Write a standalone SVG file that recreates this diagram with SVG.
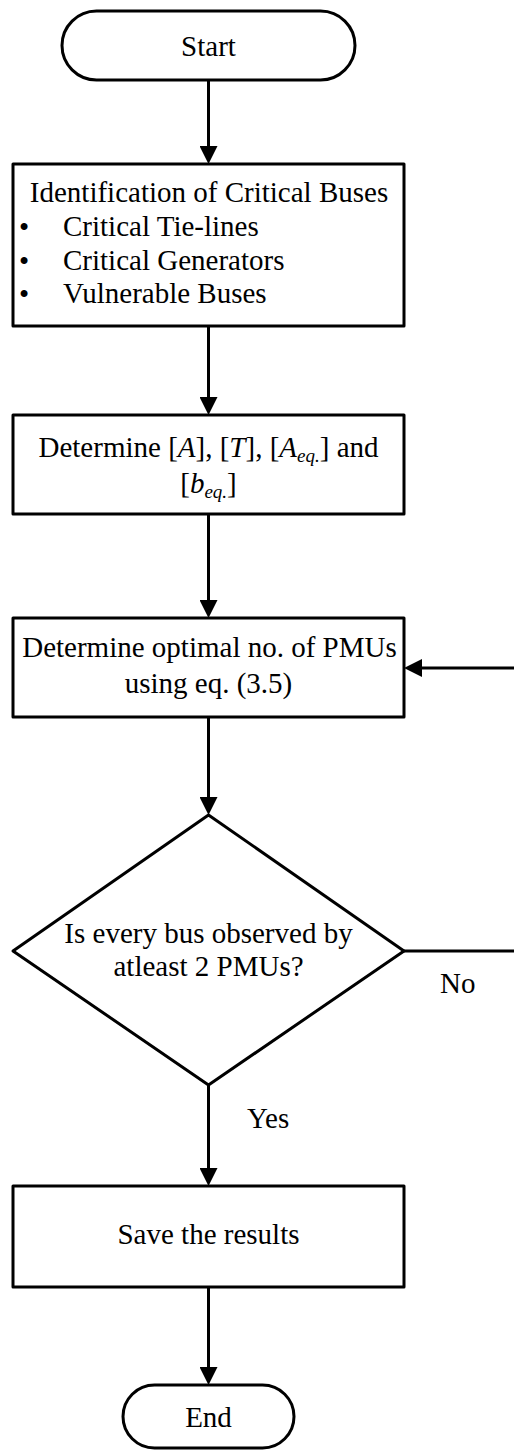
<svg xmlns="http://www.w3.org/2000/svg" width="514" height="1450" viewBox="0 0 514 1450">
<style>
.shape{fill:#fff;stroke:#000;stroke-width:3;stroke-linejoin:round}
.conn{fill:none;stroke:#000;stroke-width:3}
text{font-family:"Liberation Serif","Times New Roman",serif;font-size:29px;fill:#000}
.c{text-anchor:middle}
.i{font-style:italic}
.sub{font-size:19px;font-style:italic}
</style>
<defs>
<marker id="arr" markerUnits="userSpaceOnUse" markerWidth="18" markerHeight="18" refX="8" refY="9" orient="auto">
<path d="M0,0 L18,9 L0,18 z" fill="#000"/>
</marker>
</defs>
<rect width="514" height="1450" fill="#fff"/>
<g id="connectors">
<line class="conn" x1="208.5" y1="80" x2="208.5" y2="154" marker-end="url(#arr)"/>
<line class="conn" x1="208.5" y1="326" x2="208.5" y2="405" marker-end="url(#arr)"/>
<line class="conn" x1="208.5" y1="514" x2="208.5" y2="608" marker-end="url(#arr)"/>
<line class="conn" x1="208.5" y1="717" x2="208.5" y2="805" marker-end="url(#arr)"/>
<line class="conn" x1="208.5" y1="1085" x2="208.5" y2="1176" marker-end="url(#arr)"/>
<line class="conn" x1="208.5" y1="1287" x2="208.5" y2="1375" marker-end="url(#arr)"/>
<line class="conn" x1="404" y1="951" x2="514" y2="951"/>
<line class="conn" x1="514" y1="668" x2="414" y2="668" marker-end="url(#arr)"/>
<text x="440" y="993">No</text>
<text x="247" y="1128">Yes</text>
</g>
<g id="start">
<rect class="shape" x="62" y="11" width="293" height="69" rx="34.5" ry="34.5"/>
<text class="c" x="208.5" y="56">Start</text>
</g>
<g id="identify">
<rect class="shape" x="13" y="164" width="391" height="162"/>
<text class="c" x="209" y="202">Identification of Critical Buses</text>
<text x="19" y="237">•</text>
<text x="63" y="236">Critical Tie-lines</text>
<text x="19" y="271">•</text>
<text x="63" y="270">Critical Generators</text>
<text x="19" y="304">•</text>
<text x="63" y="303">Vulnerable Buses</text>
</g>
<g id="determine">
<rect class="shape" x="13" y="415" width="391" height="99"/>
<text class="c" x="208.5" y="457">Determine [<tspan class="i">A</tspan>], [<tspan class="i">T</tspan>], [<tspan class="i">A</tspan><tspan class="sub" dy="5">eq.</tspan><tspan dy="-5">] and</tspan></text>
<text class="c" x="208.5" y="493">[<tspan class="i">b</tspan><tspan class="sub" dy="5">eq.</tspan><tspan dy="-5">]</tspan></text>
</g>
<g id="optimal">
<rect class="shape" x="13" y="618" width="391" height="99"/>
<text class="c" x="209.5" y="657">Determine optimal no. of PMUs</text>
<text class="c" x="208.5" y="693">using eq. (3.5)</text>
</g>
<g id="decision">
<polygon class="shape" points="208.5,815 404,951 208.5,1085 13,951"/>
<text class="c" x="208.5" y="943">Is every bus observed by</text>
<text class="c" x="208.5" y="976">atleast 2 PMUs?</text>
</g>
<g id="save">
<rect class="shape" x="13" y="1186" width="391" height="101"/>
<text class="c" x="208.5" y="1244">Save the results</text>
</g>
<g id="end">
<rect class="shape" x="123" y="1385" width="171" height="63" rx="31.5" ry="31.5"/>
<text class="c" x="208.5" y="1427">End</text>
</g>
</svg>
